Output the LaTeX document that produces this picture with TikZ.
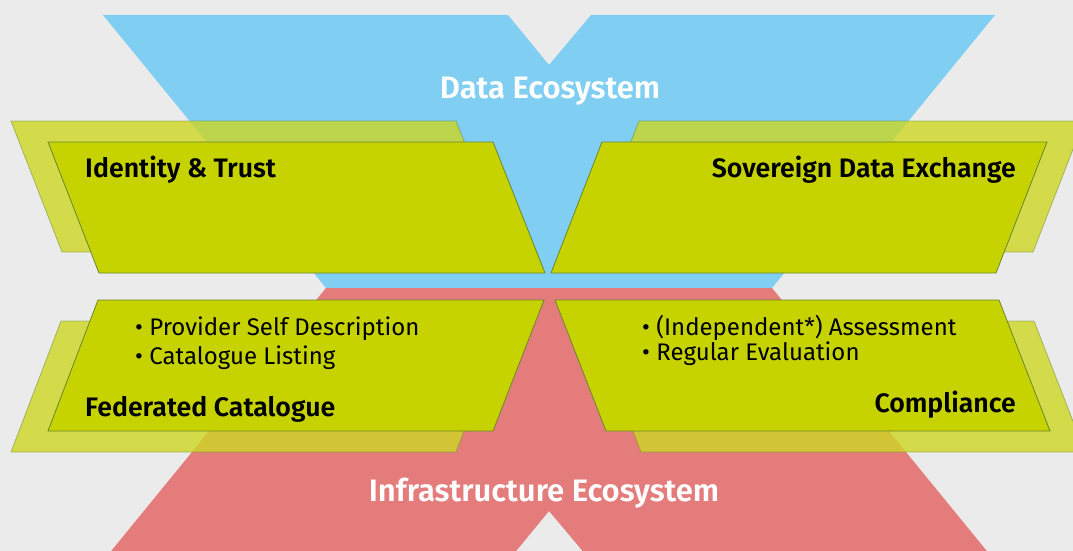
\documentclass[tikz,border=0pt]{standalone}
\usepackage{fontspec}
\setmainfont{Fira Sans}[BoldFont={Fira Sans SemiBold}]
\definecolor{bggray}{RGB}{235,235,235}
\definecolor{skyblue}{RGB}{128,206,242}
\definecolor{salmonred}{RGB}{229,124,124}
\definecolor{limegreen}{RGB}{198,211,0}
\definecolor{palegreen}{RGB}{205,215,36}
\definecolor{olivedge}{RGB}{105,135,45}
\begin{document}
\begin{tikzpicture}[x=1pt,y=-1pt]
\tikzstyle{panel}=[fill=limegreen,draw=olivedge,line width=0.8pt]
\tikzstyle{shadow}=[fill=palegreen,fill opacity=0.8,draw=olivedge,draw opacity=0.5,line width=0.8pt]
\tikzstyle{heading}=[font=\fontsize{26.7}{30}\selectfont\bfseries,inner sep=0pt]
\tikzstyle{item}=[font=\fontsize{24}{28}\selectfont,inner sep=0pt]
\tikzstyle{eco}=[text=white,font=\fontsize{31}{33}\selectfont\bfseries,inner sep=0pt]
\useasboundingbox (0,0) rectangle (1073,551);
\clip (0,0) rectangle (1073,551);
\fill[bggray] (0,0) rectangle (1073,551);

% the two halves of the X
\fill[skyblue] (103,15) -- (508,15) -- (549,65) -- (591,15) -- (995,15) -- (772,288) -- (326,288) -- cycle;
\fill[salmonred] (326,288) -- (772,288) -- (995,561) -- (591,561) -- (549,511) -- (508,561) -- (103,561) -- cycle;

\path (550,91) node[eco](dataeco){Data Ecosystem};
\path (544,493) node[eco](infraeco){Infrastructure Ecosystem};

% shadows
\draw[shadow] (11,121) -- (456,121) -- (508,252) -- (62,252) -- cycle;
\draw[shadow] (639,121) -- (1084,121) -- (1033,252) -- (588,252) -- cycle;
\draw[shadow] (61,321) -- (507,321) -- (456,452) -- (11,452) -- cycle;
\draw[shadow] (590,321) -- (1034,321) -- (1085,452) -- (641,452) -- cycle;

% panels
\draw[panel] (48,142) -- (493,142) -- (545,273) -- (99,273) -- cycle;
\draw[panel] (602,142) -- (1047,142) -- (996,273) -- (551,273) -- cycle;
\draw[panel] (98,300) -- (544,300) -- (493,431) -- (48,431) -- cycle;
\draw[panel] (555,300) -- (999,300) -- (1050,431) -- (606,431) -- cycle;

\path (85,177) node[heading,anchor=base west](identity){Identity \& Trust};
\path (1016,177) node[heading,anchor=base east](exchange){Sovereign Data Exchange};
\path (85,416) node[heading,anchor=base west](catalogue){Federated Catalogue};
\path (1016,412) node[heading,anchor=base east](compliance){Compliance};

\path (135,335) node[item,anchor=base west](selfdesc){• Provider Self Description};
\path (135,364) node[item,anchor=base west](listing){• Catalogue Listing};
\path (642,335) node[item,anchor=base west](assess){• (Independent*) Assessment};
\path (642,360) node[item,anchor=base west](evaluation){• Regular Evaluation};
\end{tikzpicture}
\end{document}
